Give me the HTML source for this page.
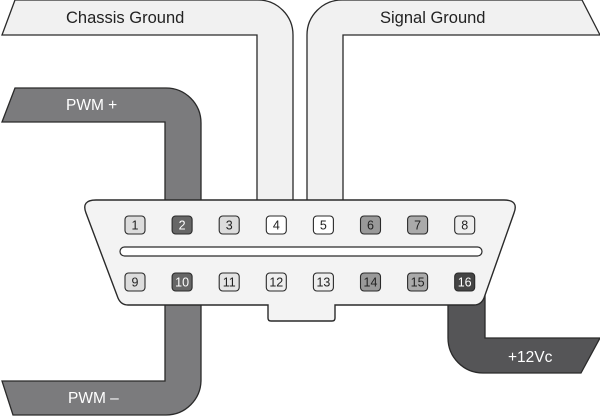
<!DOCTYPE html>
<html><head><meta charset="utf-8"><style>
html,body{margin:0;padding:0;background:#fff;}
svg{display:block;font-family:"Liberation Sans",sans-serif;}
</style></head><body>
<svg width="600" height="417" viewBox="0 0 600 417">
  <g stroke="#2a2a2a" stroke-width="1.3">
    <path fill="#f1f1f1" d="M15 0 L258 0 A35 35 0 0 1 293 35 L293 205 L257 205 L257 35 L2 35 Z"/>
    <path fill="#f1f1f1" d="M342 0 L582 0 L600 35 L343 35 L343 205 L307 205 L307 35 A35 35 0 0 1 342 0 Z"/>
    <path fill="#7b7b7d" d="M15 88 L166 88 A35 35 0 0 1 201 123 L201 215 L165 215 L165 122 L2 122 Z"/>
    <path fill="#7b7b7d" d="M165 290 L201 290 L201 380 A35 35 0 0 1 166 415 L13 415 L2 381 L165 381 Z"/>
    <path fill="#555557" d="M448 290 L485 290 L485 338 L600 338 L581 373 L483 373 A35 35 0 0 1 448 338 Z"/>
  </g>
  <text x="66" y="23" font-size="16.5" fill="#222">Chassis Ground</text>
  <text x="380" y="23" font-size="16.5" fill="#222">Signal Ground</text>
  <text x="66" y="110" font-size="15.5" fill="#fff">PWM +</text>
  <text x="68" y="403" font-size="15.5" fill="#fff">PWM –</text>
  <text x="508" y="362" font-size="15.5" fill="#fff">+12Vc</text>
  <path fill="#f3f3f3" stroke="#2a2a2a" stroke-width="1.4"
    d="M96 200 L504 200 Q519 200 514 213 L484 298 Q481 305 474 305 L335 305 L335 318 Q335 321 332 321 L271 321 Q268 321 268 318 L268 305 L128 305 Q121 305 118 298 L86 213 Q81 200 96 200 Z"/>
  <rect x="120" y="247" width="362" height="9" rx="4.5" fill="#fff" stroke="#2a2a2a" stroke-width="1.2"/>
  <g id="pins" font-size="12.5" text-anchor="middle"></g>
</svg>
<script>
const pinNumbers=[1,2,3,4,5,6,7,8,9,10,11,12,13,14,15,16];
const pinFills=["#dcdcdc","#666","#dcdcdc","#fff","#fff","#999","#aaa","#eee","#dcdcdc","#666","#e4e4e4","#eee","#eee","#999","#aaa","#444"];
const g=document.getElementById('pins');
const ns="http://www.w3.org/2000/svg";
pinNumbers.forEach((n,i)=>{
  const col=i%8,row=Math.floor(i/8);
  const cx=135+col*47.1,cy=row?282:225;
  const r=document.createElementNS(ns,'rect');
  r.setAttribute('x',cx-10);r.setAttribute('y',cy-9);
  r.setAttribute('width',20);r.setAttribute('height',18);r.setAttribute('rx',3.5);
  r.setAttribute('fill',pinFills[i]);r.setAttribute('stroke','#2a2a2a');r.setAttribute('stroke-width','1.1');
  
  
  g.appendChild(r);
  const t=document.createElementNS(ns,'text');
  t.setAttribute('x',cx);t.setAttribute('y',cy+4.5);
  const dark=(pinFills[i]==="#666"||pinFills[i]==="#444");
  t.setAttribute('fill',dark?'#fff':'#222');
  t.textContent=n;
  
  
  g.appendChild(t);
});
</script>
</body></html>
